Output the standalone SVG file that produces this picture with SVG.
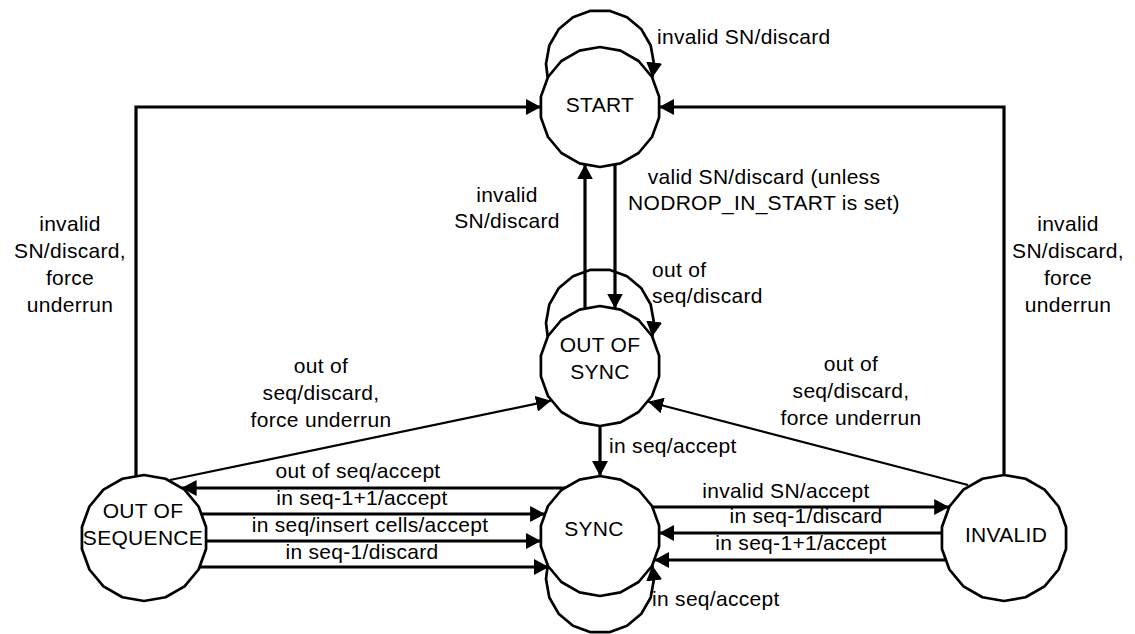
<svg xmlns="http://www.w3.org/2000/svg" width="1135" height="634" viewBox="0 0 1135 634">
<style>
.node{fill:#fff;stroke:#000;stroke-width:2.7;stroke-linejoin:round}
.t{font-family:"Liberation Sans",Arial,sans-serif;font-size:21px;fill:#000;letter-spacing:0.3px}
.m{text-anchor:middle}
.c{fill:none;stroke:#000;stroke-width:3.2;stroke-linejoin:miter}
.d{fill:none;stroke:#000;stroke-width:2.2}
.l{fill:none;stroke:#000;stroke-width:2.7;stroke-linejoin:round}
</style>
<defs>
<marker id="ah" markerUnits="userSpaceOnUse" viewBox="0 0 15 16" refX="15" refY="8" markerWidth="15" markerHeight="16" orient="auto">
<path d="M0,0 L15,8 L0,16 z" fill="#000"/>
</marker>
<polygon id="p18" points="0,-60 20.5,-56.4 38.6,-46 52,-30 59.1,-10.4 59.1,10.4 52,30 38.6,46 20.5,56.4 0,60 -20.5,56.4 -38.6,46 -52,30 -59.1,10.4 -59.1,-10.4 -52,-30 -38.6,-46 -20.5,-56.4"/>
</defs>
<rect width="1135" height="634" fill="#fff"/>

<g id="connectors">
<path class="c" d="M136,476.4 V107 H540.9" marker-end="url(#ah)"/>
<path class="c" d="M1004,475 V107 H659.1" marker-end="url(#ah)"/>
<path class="c" d="M615,164.4 V308.6" marker-end="url(#ah)"/>
<path class="c" d="M585,308.6 V164.4" marker-end="url(#ah)"/>
<path class="c" d="M600,426 V476" marker-end="url(#ah)"/>
<path class="d" d="M170,480 L551,400.7" marker-end="url(#ah)"/>
<path class="d" d="M968,485 L648.2,401.8" marker-end="url(#ah)"/>
<path class="c" d="M565,488 H181.6" marker-end="url(#ah)"/>
<path class="c" d="M201.3,514 H545.1" marker-end="url(#ah)"/>
<path class="c" d="M206,541 H540.9" marker-end="url(#ah)"/>
<path class="c" d="M199.5,567 H548.8" marker-end="url(#ah)"/>
<path class="c" d="M652.4,507 H949.2" marker-end="url(#ah)"/>
<path class="c" d="M941.9,533 H659.1" marker-end="url(#ah)"/>
<path class="c" d="M946,560 H654.2" marker-end="url(#ah)"/>
<path class="l" d="M547.7,77.5 L546,64 L549.3,45.5 L558.6,29.3 L573,17.2 L590.6,10.8 L609.4,10.8 L627,17.2 L641.4,29.3 L650.7,45.5 L654,64 L652.3,77.5" marker-end="url(#ah)"/>
<path class="l" d="M547.7,336.5 L546,323 L549.3,304.5 L558.6,288.3 L573,276.2 L590.6,269.8 L609.4,269.8 L627,276.2 L641.4,288.3 L650.7,304.5 L654,323 L652.3,336.5" marker-end="url(#ah)"/>
<path class="l" d="M547.7,565.5 L546,579 L549.3,597.5 L558.6,613.7 L573,625.8 L590.6,632.2 L609.4,632.2 L627,625.8 L641.4,613.7 L650.7,597.5 L654,579 L652.3,565.5" marker-end="url(#ah)"/>

<text class="t" x="657" y="44">invalid SN/discard</text>
<text class="t m" x="507" y="202">invalid</text>
<text class="t m" x="507" y="228">SN/discard</text>
<text class="t m" x="764" y="184">valid SN/discard (unless</text>
<text class="t m" x="764" y="210">NODROP_IN_START is set)</text>
<text class="t" x="652" y="277">out of</text>
<text class="t" x="652" y="303">seq/discard</text>
<text class="t m" x="70" y="231">invalid</text>
<text class="t m" x="70" y="258">SN/discard,</text>
<text class="t m" x="70" y="285">force</text>
<text class="t m" x="70" y="312">underrun</text>
<text class="t m" x="1068" y="231">invalid</text>
<text class="t m" x="1068" y="258">SN/discard,</text>
<text class="t m" x="1068" y="285">force</text>
<text class="t m" x="1068" y="312">underrun</text>
<text class="t m" x="321" y="373">out of</text>
<text class="t m" x="321" y="400">seq/discard,</text>
<text class="t m" x="321" y="427">force underrun</text>
<text class="t m" x="851" y="371">out of</text>
<text class="t m" x="851" y="398">seq/discard,</text>
<text class="t m" x="851" y="425">force underrun</text>
<text class="t" x="609" y="453">in seq/accept</text>
<text class="t m" x="358" y="478">out of seq/accept</text>
<text class="t m" x="362" y="505">in seq-1+1/accept</text>
<text class="t m" x="370" y="532">in seq/insert cells/accept</text>
<text class="t m" x="362" y="559">in seq-1/discard</text>
<text class="t m" x="786" y="498">invalid SN/accept</text>
<text class="t m" x="806" y="523">in seq-1/discard</text>
<text class="t m" x="801" y="550">in seq-1+1/accept</text>
<text class="t" x="652" y="606">in seq/accept</text>
</g>

<g id="start">
<use href="#p18" class="node" x="600" y="107"/>
<text class="t m" x="600" y="112">START</text>
</g>
<g id="out-of-sync">
<use href="#p18" class="node" x="600" y="366"/>
<text class="t m" x="600" y="352">OUT OF</text>
<text class="t m" x="600" y="379">SYNC</text>
</g>
<g id="sync">
<use href="#p18" class="node" x="600" y="536"/>
<text class="t m" x="594" y="536">SYNC</text>
</g>
<g id="out-of-sequence">
<polygon class="node" transform="translate(144,538) scale(1.05)" style="stroke-width:2.57" points="0,-60 20.5,-56.4 38.6,-46 52,-30 59.1,-10.4 59.1,10.4 52,30 38.6,46 20.5,56.4 0,60 -20.5,56.4 -38.6,46 -52,30 -59.1,10.4 -59.1,-10.4 -52,-30 -38.6,-46 -20.5,-56.4"/>
<text class="t m" x="143" y="518">OUT OF</text>
<text class="t m" x="143" y="545">SEQUENCE</text>
</g>
<g id="invalid">
<polygon class="node" transform="translate(1004,538) scale(1.05)" style="stroke-width:2.57" points="0,-60 20.5,-56.4 38.6,-46 52,-30 59.1,-10.4 59.1,10.4 52,30 38.6,46 20.5,56.4 0,60 -20.5,56.4 -38.6,46 -52,30 -59.1,10.4 -59.1,-10.4 -52,-30 -38.6,-46 -20.5,-56.4"/>
<text class="t m" x="1006" y="542">INVALID</text>
</g>
</svg>
